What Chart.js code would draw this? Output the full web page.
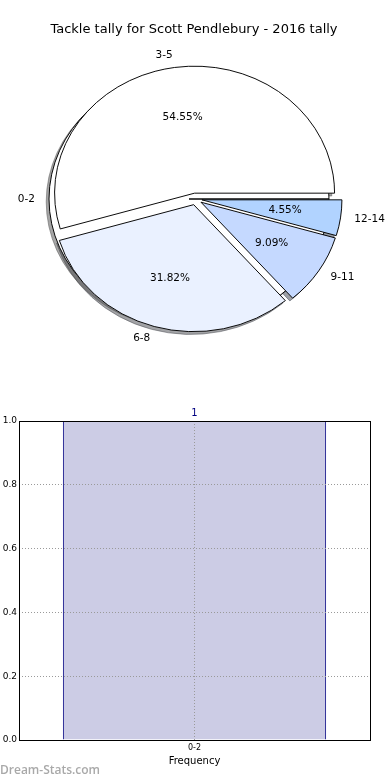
<!DOCTYPE html>
<html>
<head>
<meta charset="utf-8">
<script src="https://cdn.jsdelivr.net/npm/chart.js@4.4.0/dist/chart.umd.min.js"></script>
<style>
  html, body { margin: 0; padding: 0; background: #fff; }
  #wrap { position: relative; width: 390px; height: 780px; overflow: hidden; }
  .pie { position: absolute; left: 0; top: 0; }
  #barBox { position: absolute; left: 0; top: 400px; width: 390px; height: 380px; }
  #mark { position: absolute; left: 0; top: 761px; font: 600 12px "Open Sans", sans-serif; color: #a9a9a9; }
</style>
</head>
<body>
<div id="wrap">
  <canvas id="pieShadow" class="pie" width="390" height="400"></canvas>
  <canvas id="pieBack" class="pie" width="390" height="400"></canvas>
  <canvas id="pieFront" class="pie" width="390" height="400"></canvas>
  <div id="barBox"><canvas id="bars" width="390" height="380"></canvas></div>
  <div id="mark">Dream-Stats.com</div>
</div>
<script>
const chartTitle = 'Tackle tally for Scott Pendlebury - 2016 tally';

// the "0-2" pie, drawn first (one wedge)
const backLabels = ['0-2'];
const backCounts = [1];
const backColors = ['#ffffff'];

// the second pie, drawn on top
const pieLabels = ['3-5', '6-8', '9-11', '12-14'];
const pieCounts = [12, 7, 2, 1];
const pieColors = ['#ffffff', '#eaf1ff', '#c5d9ff', '#b1d3ff'];

// histogram
const barLabels = ['0-2'];
const barValues = [1];
const yTicks = [0, 0.2, 0.4, 0.6, 0.8, 1.0];

Chart.defaults.font.family = '"DejaVu Sans", sans-serif';
Chart.defaults.animation = false;

const R = 140;          // pie radius in px (before vertical squash)
const KY = 127 / 140;   // axes were not square, so the pie is an ellipse
const EXPLODE = 6.5;
const SHADOW = 2.8;

// matplotlib goes counter-clockwise from 3 o'clock, chart.js clockwise -> reverse
const rev = a => a.slice().reverse();

function shade(hex) {
  const n = parseInt(hex.slice(1), 16);
  const r = Math.round(((n >> 16) & 255) * 0.3), g = Math.round(((n >> 8) & 255) * 0.3), b = Math.round((n & 255) * 0.3);
  return 'rgba(' + r + ',' + g + ',' + b + ',0.5)';
}

const mplPie = {
  id: 'mplPie',
  beforeDatasetsDraw(chart, args, opts) {
    const ctx = chart.ctx;
    const arcs = chart.getDatasetMeta(0).data;
    const cx = arcs[0].x, cy = arcs[0].y;
    ctx.save();
    ctx.translate(cx, cy);
    ctx.scale(1, KY);
    ctx.translate(-cx, -cy);
    const drawOne = (el, dx, dy, col) => {
      const mid = (el.startAngle + el.endAngle) / 2;
      ctx.save();
      ctx.translate(Math.cos(mid) * EXPLODE + dx, Math.sin(mid) * EXPLODE + dy);
      if (col) {
        const o = el.options;
        el.options = Object.assign({}, o, { backgroundColor: col, borderColor: col });
        el.draw(ctx);
        el.options = o;
      } else {
        el.draw(ctx);
      }
      ctx.restore();
    };
    if (opts.shadow) arcs.forEach(el => drawOne(el, -SHADOW, SHADOW / KY, shade(el.options.backgroundColor)));
    if (opts.wedges) arcs.forEach(el => drawOne(el, 0, 0));
    ctx.restore();
    return false;
  },
  afterDraw(chart, args, opts) {
    if (!opts.labels) return;
    const ctx = chart.ctx;
    const arcs = chart.getDatasetMeta(0).data;
    const labels = chart.data.labels;
    const vals = chart.data.datasets[0].data;
    const total = vals.reduce((a, b) => a + b, 0);
    ctx.save();
    ctx.fillStyle = '#000';
    ctx.font = '10.5px "DejaVu Sans"';
    ctx.textBaseline = 'middle';
    arcs.forEach((el, i) => {
      const mid = (el.startAngle + el.endAngle) / 2;
      const c = Math.cos(mid), s = Math.sin(mid);
      const d1 = 1.1 * el.outerRadius + EXPLODE;
      ctx.textAlign = c > 0 ? 'left' : 'right';
      ctx.fillText(labels[i], el.x + c * d1, el.y + s * d1 * KY);
      const d2 = 0.6 * el.outerRadius + EXPLODE;
      ctx.textAlign = 'center';
      ctx.fillText((vals[i] / total * 100).toFixed(2) + '%', el.x + c * d2, el.y + s * d2 * KY);
    });
    if (opts.title) {
      ctx.font = '13px "DejaVu Sans"';
      ctx.textAlign = 'center';
      ctx.fillText(opts.title, 194, 30);
    }
    ctx.restore();
  }
};

function pieChart(id, labels, counts, colors, pluginOpts) {
  return new Chart(document.getElementById(id), {
    type: 'pie',
    data: {
      labels: rev(labels),
      datasets: [{
        data: rev(counts),
        backgroundColor: rev(colors),
        borderColor: '#000',
        borderWidth: 1,
        offset: 0
      }]
    },
    options: {
      responsive: false,
      rotation: 90,
      radius: R,
      layout: { padding: { left: 1, right: 0, top: 0, bottom: 2 } },
      plugins: { legend: { display: false }, tooltip: { enabled: false }, mplPie: pluginOpts }
    },
    plugins: [mplPie]
  });
}

pieChart('pieShadow', pieLabels, pieCounts, pieColors, { shadow: true, wedges: false, labels: false });
pieChart('pieBack', backLabels, backCounts, backColors, { shadow: true, wedges: true, labels: true });
pieChart('pieFront', pieLabels, pieCounts, pieColors, { shadow: false, wedges: true, labels: true, title: chartTitle });

// --- histogram ---
const barExtras = {
  id: 'barExtras',
  afterDatasetsDraw(chart) {
    const ctx = chart.ctx;
    ctx.save();
    ctx.fillStyle = '#000080';
    ctx.font = '10px "DejaVu Sans"';
    ctx.textAlign = 'center';
    ctx.textBaseline = 'alphabetic';
    chart.getDatasetMeta(0).data.forEach((bar, i) => {
      ctx.fillText(String(barValues[i]), bar.x, bar.y - 5);
    });
    ctx.restore();
  },
  afterDraw(chart) {
    const a = chart.chartArea;
    const ctx = chart.ctx;
    ctx.save();
    ctx.strokeStyle = '#000';
    ctx.lineWidth = 1;
    ctx.strokeRect(Math.round(a.left) + 0.5, Math.round(a.top) + 0.5, Math.round(a.right - a.left), Math.round(a.bottom - a.top));
    ctx.restore();
  }
};

new Chart(document.getElementById('bars'), {
  type: 'bar',
  data: {
    labels: barLabels,
    datasets: [{
      data: barValues,
      backgroundColor: '#ccccE5',
      borderColor: '#000080',
      borderWidth: 1,
      barPercentage: 0.75,
      categoryPercentage: 1
    }]
  },
  options: {
    responsive: false,
    layout: { padding: { left: 0, right: 20, top: 21, bottom: 13 } },
    plugins: { legend: { display: false }, tooltip: { enabled: false } },
    scales: {
      x: {
        grid: { offset: false, color: '#9a9a9a', drawTicks: false, z: 1 },
        border: { display: false, dash: [1, 2] },
        ticks: { color: '#000', font: { size: 8 }, padding: 3 },
        title: { display: true, text: 'Frequency', color: '#000', font: { size: 10 }, padding: { top: 2, bottom: 0 } },
        afterFit(scale) { scale.height = 27; }
      },
      y: {
        min: 0,
        max: 1,
        afterBuildTicks(scale) { scale.ticks = yTicks.map(v => ({ value: v })); },
        grid: { color: '#9a9a9a', drawTicks: false, z: 1 },
        border: { display: false, dash: [1, 2] },
        ticks: { color: '#000', font: { size: 9 }, padding: 2, callback: v => Number(v).toFixed(1) },
        afterFit(scale) { scale.width = 19; }
      }
    }
  },
  plugins: [barExtras]
});
</script>
</body>
</html>
